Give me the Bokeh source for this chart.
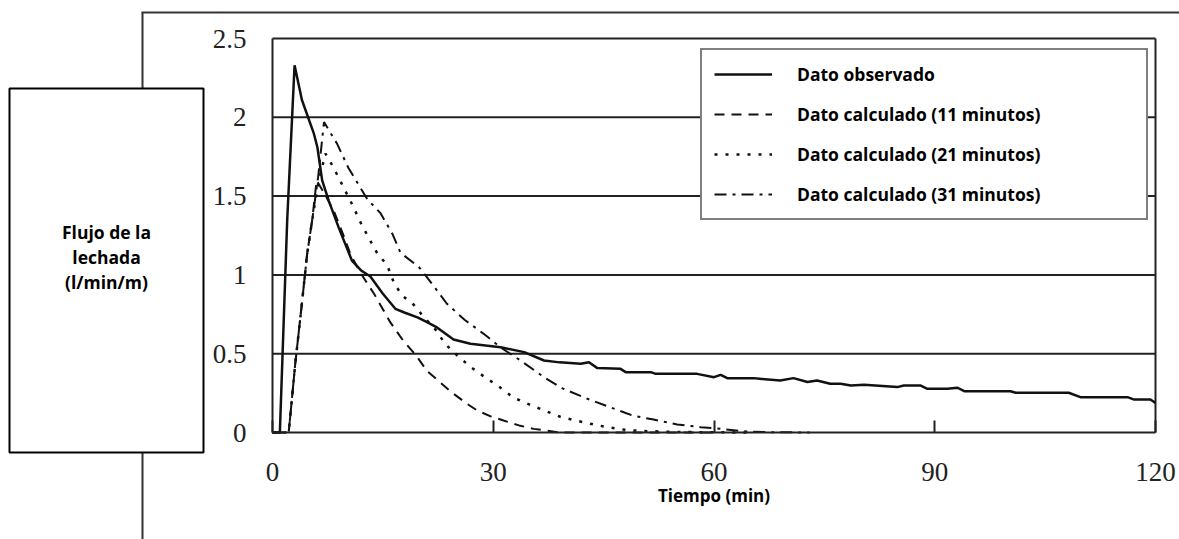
from bokeh.plotting import figure
from bokeh.models import (Range1d, LinearAxis, FixedTicker, Legend, LegendItem, Grid)
from bokeh.embed import file_html
from bokeh.resources import INLINE
from bokeh.core.properties import value

# ---------------- data ----------------
t_obs = [0, 1.0, 2.0, 3.0, 4.0, 5.6, 6.1, 6.75, 7.65, 9.0, 10.8, 12.0, 13.3, 15.0,
         16.7, 18.0, 19.7, 21.0, 22.4, 24.6, 26.9, 31.0, 34.2, 36.9, 39.0, 41.9,
         43.0, 44.1, 47.3, 48.0, 51.4, 52.1, 57.7, 60.0, 60.9, 61.8, 65.4, 66.5,
         69.0, 70.8, 72.7, 74.0, 75.8, 77.2, 78.6, 80.4, 84.9, 85.8, 88.1, 89.0,
         91.7, 93.1, 94.0, 100.3, 101.0, 108.2, 109.8, 116.2, 117.1, 119.3, 120]
v_obs = [0, 0, 1.35, 2.33, 2.11, 1.90, 1.81, 1.60, 1.47, 1.30, 1.09, 1.03, 0.99, 0.88,
         0.785, 0.76, 0.73, 0.70, 0.665, 0.59, 0.563, 0.541, 0.51, 0.457, 0.445, 0.436,
         0.446, 0.41, 0.404, 0.383, 0.383, 0.372, 0.372, 0.351, 0.366, 0.345, 0.345, 0.34,
         0.33, 0.345, 0.32, 0.33, 0.309, 0.309, 0.298, 0.303, 0.288, 0.298, 0.298, 0.277,
         0.277, 0.284, 0.262, 0.262, 0.252, 0.252, 0.224, 0.224, 0.209, 0.209, 0.188]

t_11 = [0, 2.2, 3.1, 4.0, 4.7, 5.4, 6.0, 7.0, 8.3, 9.9, 10.6, 12.0, 13.8, 16.0, 17.8,
        19.5, 21.0, 22.5, 24.2, 26.5, 27.8, 29.5, 31.4, 33.5, 35.5, 39.1, 45, 50, 60]
v_11 = [0, 0, 0.44, 0.82, 1.13, 1.35, 1.60, 1.52, 1.41, 1.22, 1.13, 1.01, 0.88, 0.70, 0.58,
        0.49, 0.39, 0.33, 0.26, 0.18, 0.14, 0.105, 0.076, 0.045, 0.023, 0, 0, 0, 0]

t_21 = [0, 2.2, 3.1, 4.0, 4.7, 5.4, 6.2, 7.2, 8.3, 9.5, 10.8, 12.0, 12.9, 14.2, 15.6,
        16.5, 17.6, 19.2, 20.6, 22.2, 23.5, 25.3, 27.1, 28.9, 30.8, 32.8, 34.8, 36.9,
        39.1, 41.2, 43.2, 45.5, 47.5, 50, 55, 65]
v_21 = [0, 0, 0.44, 0.82, 1.13, 1.35, 1.58, 1.77, 1.68, 1.57, 1.45, 1.33, 1.25, 1.14, 1.06,
        0.95, 0.87, 0.81, 0.73, 0.65, 0.56, 0.48, 0.41, 0.35, 0.29, 0.22, 0.18, 0.14,
        0.10, 0.076, 0.055, 0.034, 0.019, 0.01, 0.003, 0]

t_31 = [0, 2.2, 3.1, 4.0, 4.7, 5.4, 6.2, 7.0, 8.8, 10.3, 12.9, 14.7, 16.3, 17.4, 19.9,
        21.9, 23.7, 26.1, 28.7, 31.0, 33.7, 36.9, 39.4, 42.8, 45.9, 48.9, 51.8, 55.0,
        58.2, 60.9, 64.5, 68, 73]
v_31 = [0, 0, 0.44, 0.82, 1.13, 1.35, 1.62, 1.97, 1.83, 1.68, 1.48, 1.39, 1.26, 1.14, 1.05,
        0.93, 0.817, 0.715, 0.626, 0.54, 0.457, 0.351, 0.28, 0.214, 0.16, 0.108, 0.082,
        0.051, 0.034, 0.023, 0.006, 0.002, 0]

series_labels = ["Dato observado", "Dato calculado (11 minutos)",
                 "Dato calculado (21 minutos)", "Dato calculado (31 minutos)"]
x_ticks = [0, 30, 60, 90, 120]
y_ticks = [0, 0.5, 1, 1.5, 2, 2.5]
y_tick_labels = ["0", "0.5", "1", "1.5", "2", "2.5"]
grid_levels = [0.5, 1, 1.5, 2]
x_title = "Tiempo (min)"
y_title_lines = ["Flujo de la", "lechada", "(l/min/m)"]

# ---------------- layout helpers (page pixels -> data) ----------------
ORIGIN = 0                        # page position of the canvas corner
PX_X0, PX_X1 = 272.0, 1155.0     # page x of t=0 and t=120
PX_Y0, PX_Y1 = 432.0, 38.0       # page y of v=0 and v=2.5
KX = (PX_X1 - PX_X0) / (x_ticks[-1] - x_ticks[0])
KY = (PX_Y0 - PX_Y1) / (y_ticks[-1] - y_ticks[0])


def px2x(px):
    return (px - PX_X0) / KX


def px2y(py):
    return (PX_Y0 - py) / KY


W, H = 1179, 539
p = figure(width=W, height=H, output_backend="svg", toolbar_location=None,
           x_range=Range1d(px2x(ORIGIN), px2x(ORIGIN + W)),
           y_range=Range1d(px2y(ORIGIN + H), px2y(ORIGIN)),
           min_border=0, x_axis_location=None, y_axis_location=None)
p.outline_line_color = None
p.background_fill_color = "white"
p.border_fill_color = "white"
for g in list(p.center):
    if isinstance(g, Grid):
        g.visible = False

FRAME = "#222222"

# outer decorative frame lines
p.segment(x0=[px2x(141)], y0=[px2y(12)], x1=[px2x(1185)], y1=[px2y(12)],
          line_color="#333333", line_width=2)
p.segment(x0=[px2x(142)], y0=[px2y(12)], x1=[px2x(142)], y1=[px2y(545)],
          line_color="#333333", line_width=2)

# grid lines and top/right border of the plot box
p.segment(x0=[x_ticks[0]] * len(grid_levels), x1=[x_ticks[-1]] * len(grid_levels),
          y0=grid_levels, y1=grid_levels, line_color=FRAME, line_width=2)
p.segment(x0=[x_ticks[0], x_ticks[-1]], y0=[y_ticks[-1], y_ticks[0]],
          x1=[x_ticks[-1], x_ticks[-1]], y1=[y_ticks[-1], y_ticks[-1]],
          line_color=FRAME, line_width=2)

# axes (fixed inside the frame at the origin)
xa = LinearAxis(fixed_location=0, ticker=FixedTicker(ticks=x_ticks),
                bounds=(x_ticks[0], x_ticks[-1]))
xa.axis_line_color = FRAME
xa.axis_line_width = 2
xa.major_tick_in = 12
xa.major_tick_out = 0
xa.major_tick_line_color = FRAME
xa.major_tick_line_width = 2
xa.minor_tick_line_color = None
xa.major_label_standoff = 30
xa.major_label_text_font = "Liberation Serif"
xa.major_label_text_font_size = "27px"
xa.major_label_text_color = "#222222"
xa.axis_label = x_title
xa.axis_label_standoff = 0
xa.axis_label_text_font = "Open Sans"
xa.axis_label_text_font_style = "bold"
xa.axis_label_text_font_size = "17px"
xa.axis_label_text_color = "black"
p.add_layout(xa, "below")

ya = LinearAxis(fixed_location=0, ticker=FixedTicker(ticks=y_ticks),
                bounds=(y_ticks[0], y_ticks[-1]))
ya.axis_line_color = FRAME
ya.axis_line_width = 2
ya.major_tick_in = 0
ya.major_tick_out = 0
ya.minor_tick_line_color = None
ya.major_label_standoff = 26
ya.major_label_overrides = {t: s for t, s in zip(y_ticks, y_tick_labels)}
ya.major_label_text_font = "Liberation Serif"
ya.major_label_text_font_size = "27px"
ya.major_label_text_color = "#222222"
p.add_layout(ya, "left")

# data lines
r_obs = p.line(t_obs, v_obs, line_color="#111111", line_width=2.5)
r_11 = p.line(t_11, v_11, line_color="#111111", line_width=2, line_dash="10 7")
r_21 = p.line(t_21, v_21, line_color="#111111", line_width=2.5, line_dash="3 8")
r_31 = p.line(t_31, v_31, line_color="#111111", line_width=2, line_dash="12 6 3 6")

# y-title box
p.quad(left=[px2x(9)], right=[px2x(203)], top=[px2y(88)], bottom=[px2y(452)],
       fill_color="white", line_color="black", line_width=2)
p.text(x=[px2x(106)] * 3, y=[px2y(231), px2y(256), px2y(281)], text=y_title_lines,
       text_font=value("Open Sans"), text_font_style="bold", text_font_size="17.5px",
       text_align="center", text_baseline="middle", text_color="black")

legend = Legend(items=[LegendItem(label=lab, renderers=[r])
                       for lab, r in zip(series_labels, [r_obs, r_11, r_21, r_31])],
                location=(700 - ORIGIN, ORIGIN + H - 220), orientation="vertical",
                border_line_color="black", border_line_width=2,
                background_fill_color="white", background_fill_alpha=1.0,
                glyph_width=58, glyph_height=24, label_height=24, label_width=337,
                label_standoff=25, spacing=16, padding=12, margin=0,
                label_text_font="Open Sans", label_text_font_style="bold",
                label_text_font_size="17.5px", label_text_color="black")
p.add_layout(legend)

open("out.html", "w").write(file_html(p, INLINE))
